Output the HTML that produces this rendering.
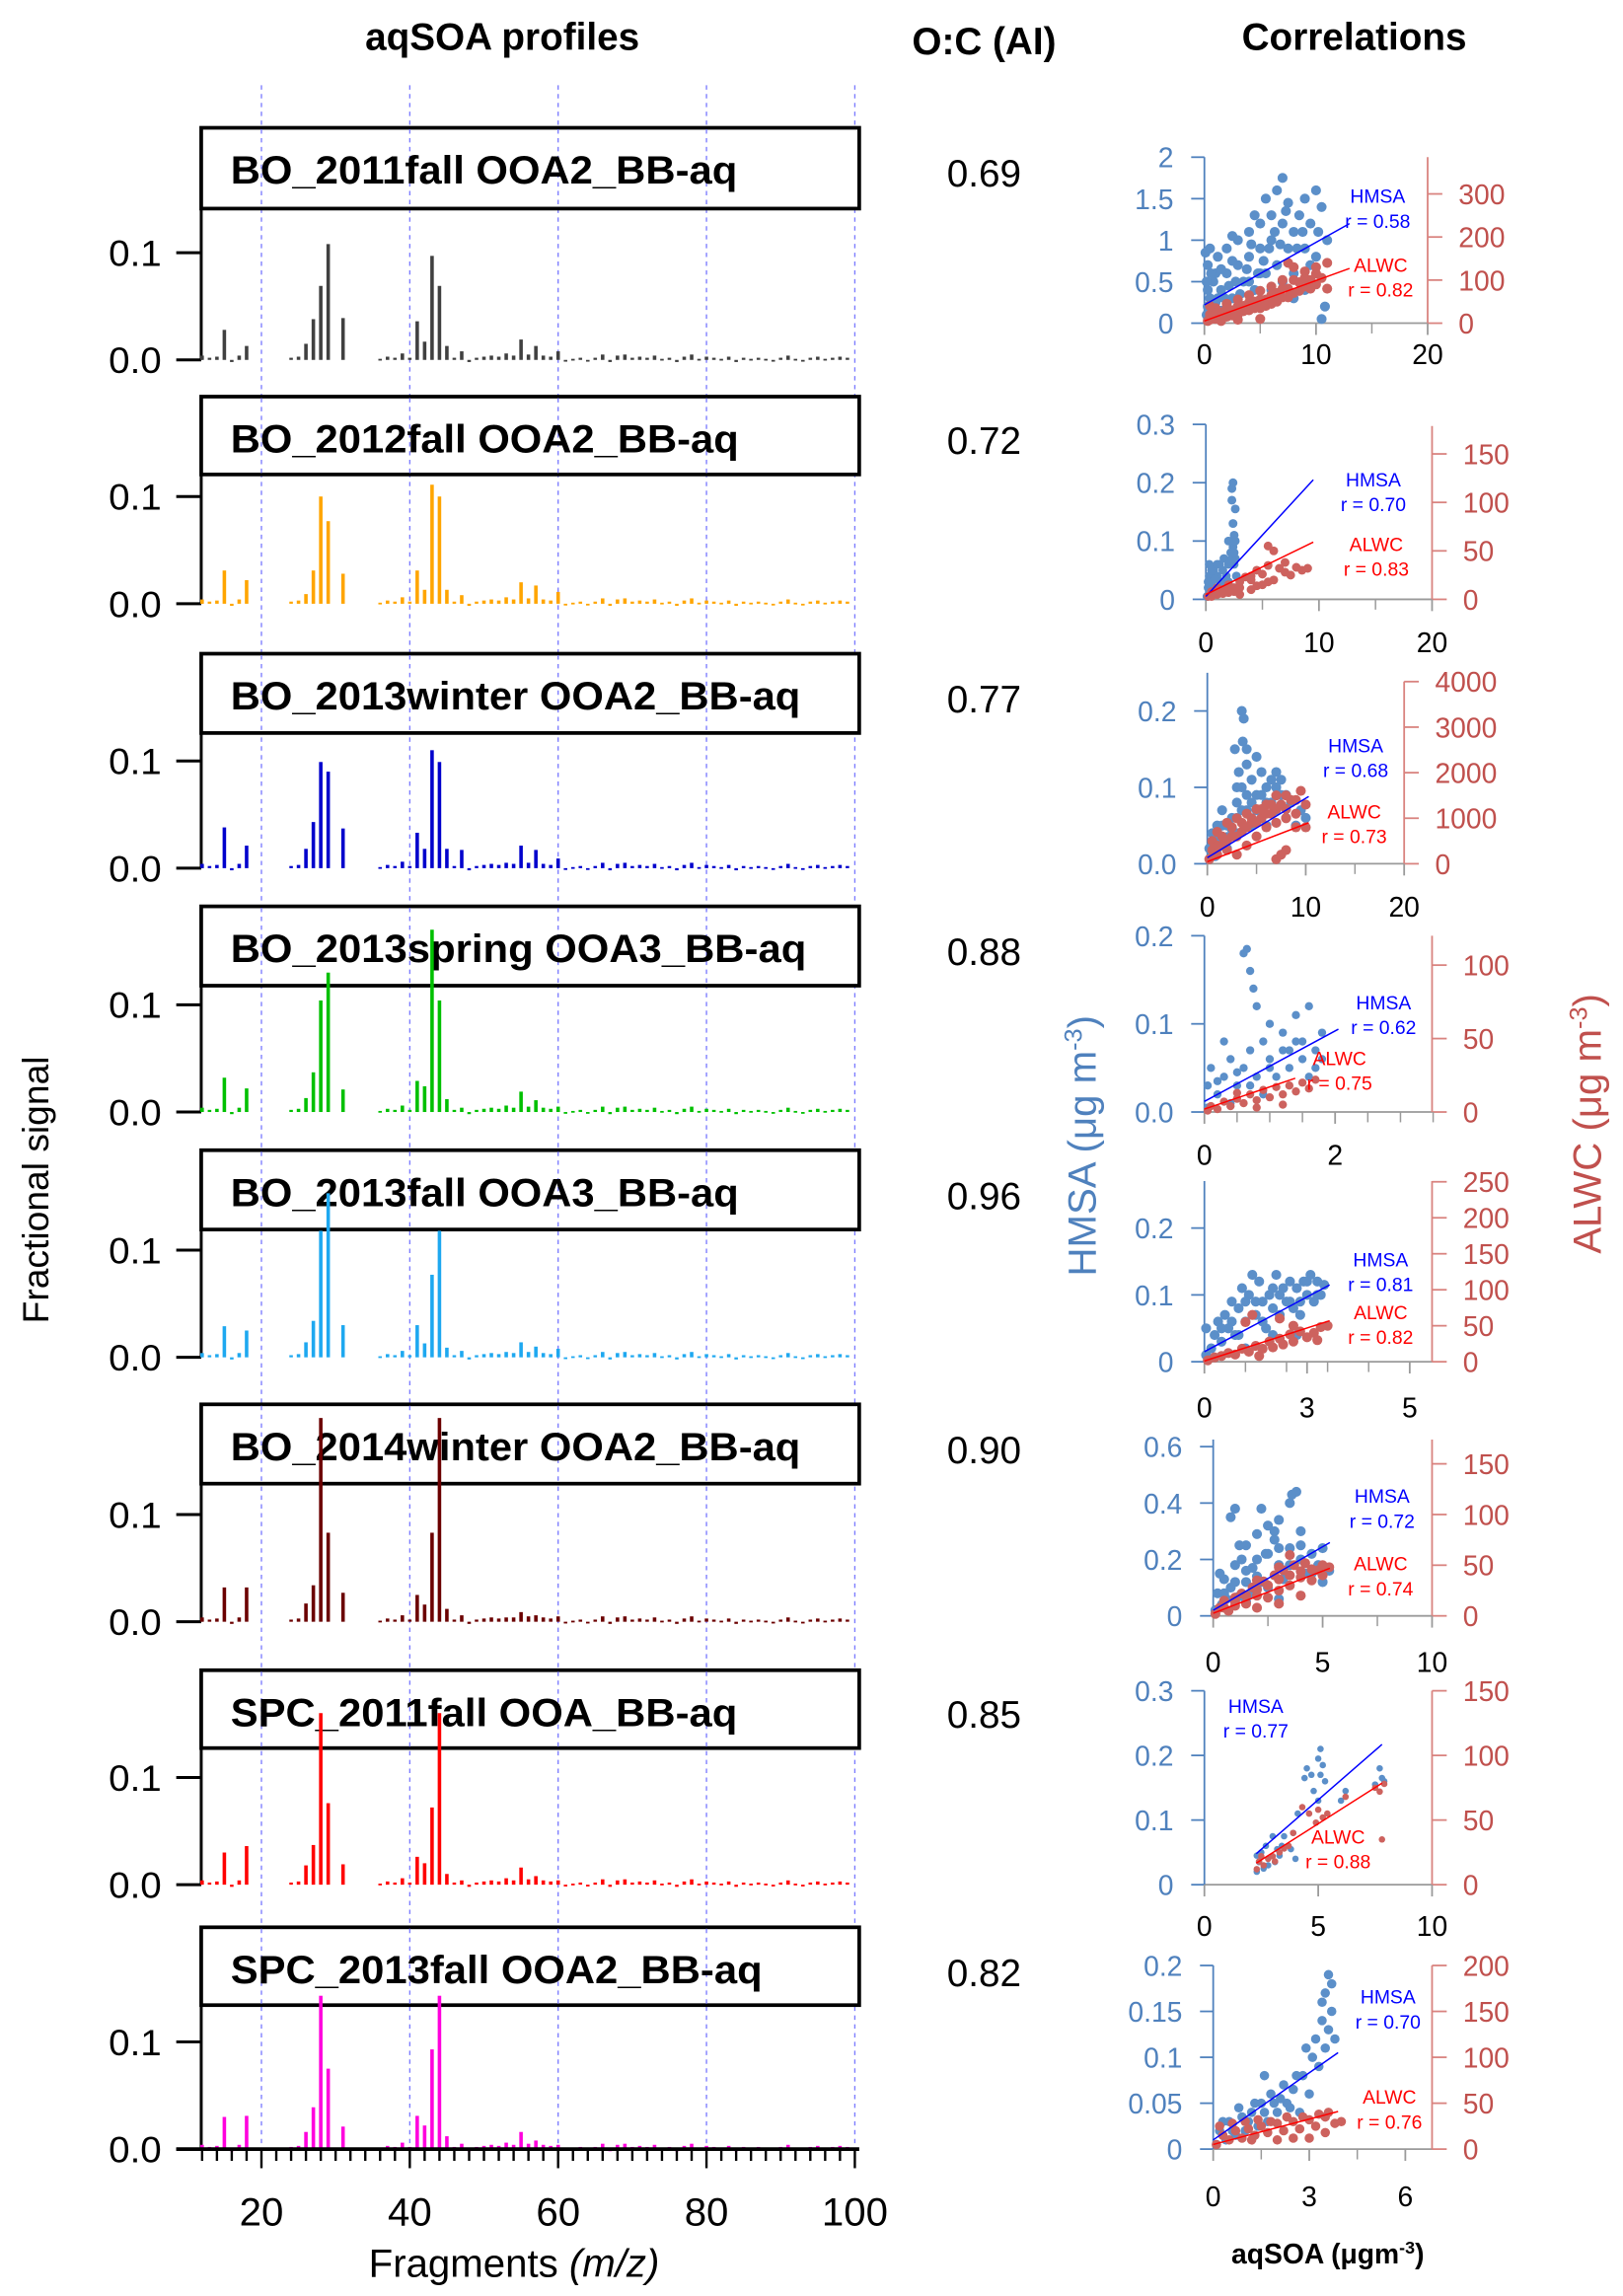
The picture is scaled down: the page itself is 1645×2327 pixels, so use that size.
<!DOCTYPE html>
<html><head><meta charset="utf-8">
<style>
html,body{margin:0;padding:0;background:#fff;}
svg{display:block;font-family:"Liberation Sans",sans-serif;}
</style></head>
<body>
<svg id="fig" xmlns="http://www.w3.org/2000/svg" width="1645" height="2327" viewBox="0 0 1105 1563" preserveAspectRatio="none">
<text x="342" y="34" text-anchor="middle" font-size="26" font-weight="bold">aqSOA profiles</text>
<text x="670" y="37" text-anchor="middle" font-size="26" font-weight="bold">O:C (AI)</text>
<text x="922" y="34" text-anchor="middle" font-size="26" font-weight="bold">Correlations</text>
<text transform="translate(33,810) rotate(-90)" text-anchor="middle" font-size="25">Fractional signal</text>
<text x="350" y="1550" text-anchor="middle" font-size="27">Fragments <tspan font-style="italic">(m/z)</tspan></text>
<text transform="translate(746,780) rotate(-90)" text-anchor="middle" font-size="27" fill="#4f81bd">HMSA (μg m<tspan baseline-shift="super" font-size="17">-3</tspan>)</text>
<text transform="translate(1090,765) rotate(-90)" text-anchor="middle" font-size="27" fill="#c0504d">ALWC (μg m<tspan baseline-shift="super" font-size="17">-3</tspan>)</text>
<text x="904" y="1541" text-anchor="middle" font-size="19" font-weight="bold">aqSOA (μgm<tspan baseline-shift="super" font-size="12">-3</tspan>)</text>
<g id="spec"></g>
<g id="scat"></g>
</svg>
<script>
// ---------- Spectra data ----------
const panelNames = ["BO_2011fall OOA2_BB-aq","BO_2012fall OOA2_BB-aq","BO_2013winter OOA2_BB-aq","BO_2013spring OOA3_BB-aq","BO_2013fall OOA3_BB-aq","BO_2014winter OOA2_BB-aq","SPC_2011fall OOA_BB-aq","SPC_2013fall OOA2_BB-aq"];
const ocValues = ["0.69","0.72","0.77","0.88","0.96","0.90","0.85","0.82"];
const peakMz = [15,18,26,27,28,29,31,41,42,43,44,45,47,53,55,57,60];
const peaks1 = [0.028,0.013,0.015,0.038,0.069,0.108,0.039,0.036,0.017,0.097,0.069,0.013,0.008,0.006,0.019,0.013,0.008];
const peaks2 = [0.031,0.022,0.009,0.031,0.100,0.077,0.028,0.031,0.013,0.111,0.100,0.013,0.008,0.006,0.020,0.017,0.011];
const peaks3 = [0.038,0.021,0.018,0.043,0.099,0.090,0.037,0.033,0.018,0.110,0.099,0.018,0.017,0.005,0.021,0.017,0.009];
const peaks4 = [0.032,0.022,0.013,0.037,0.104,0.130,0.021,0.029,0.024,0.170,0.104,0.012,0.004,0.006,0.019,0.011,0.005];
const peaks5 = [0.029,0.025,0.014,0.034,0.118,0.153,0.030,0.030,0.013,0.077,0.118,0.009,0.006,0.005,0.014,0.010,0.008];
const peaks6 = [0.032,0.032,0.017,0.034,0.190,0.083,0.027,0.025,0.016,0.083,0.190,0.012,0.006,0.004,0.009,0.006,0.005];
const peaks7 = [0.030,0.036,0.018,0.037,0.160,0.076,0.019,0.026,0.020,0.072,0.160,0.010,0.004,0.006,0.016,0.008,0.004];
const peaks8 = [0.030,0.031,0.016,0.039,0.143,0.075,0.021,0.031,0.022,0.093,0.143,0.012,0.005,0.006,0.016,0.008,0.004];
const minorMz = [12,13,14,16,17,24,25,36,37,38,39,40,46,48,49,50,51,52,54,56,58,59,61,62,63,64,65,66,67,68,69,70,71,72,73,74,75,76,77,78,79,80,81,82,83,84,85,86,87,88,89,90,91,92,93,94,95,96,97,98,99];
const minorVal = [0.004,0.002,0.003,-0.002,0.004,0.002,0.003,0.001,0.003,0.002,0.006,0.002,0.002,-0.002,0.002,0.003,0.004,0.003,0.004,0.005,0.004,0.003,-0.001,0.001,0.002,-0.001,0.002,0.005,-0.002,0.004,0.005,0.002,0.003,0.002,0.004,0.001,0.002,-0.002,0.003,0.005,0.001,0.003,0.002,0.001,0.003,-0.002,0.002,0.001,0.002,0.001,-0.001,0.002,0.004,0.001,-0.001,0.002,0.003,0.001,0.002,0.003,0.002];
const xTickLabels = ["20","40","60","80","100"];
const xTickVals = [20,40,60,80,100];
const yTickVals = [0,0.1];
const yTickLabels = ["0.0","0.1"];
const allPeaks = [peaks1,peaks2,peaks3,peaks4,peaks5,peaks6,peaks7,peaks8];

// layout (not data)
const colors = ["#404040","#ffa500","#0000cc","#00c000","#1ea8f0","#6b0000","#ff0000","#ff00dd"];
const boxTop = [87,270,445,617,783,956,1137,1312];
const boxBot = [142,323,499,671,837,1010,1190,1365];
const zeroY = [245,411,591,757,924,1104,1283,1463];
const titleW = [345,346,388,392,346,388,345,362];
const ocY = [127,309,485,657,823,996,1176,1352];
const perTenth = 73;
const X = mz => 178 + (mz-20)*5.05;
const NS = "http://www.w3.org/2000/svg";
function mk(tag, attrs, parent){const e=document.createElementNS(NS,tag);for(const k in attrs)e.setAttribute(k,attrs[k]);parent.appendChild(e);return e;}
const spec = document.getElementById('spec');

xTickVals.forEach((v,i)=>{
  const l = mk('line',{x1:X(v),x2:X(v),y1:58,y2:1463,stroke:'#7b7bff','stroke-width':0.9,'stroke-dasharray':'3,3'},spec);
  
  
});

for(let p=0;p<8;p++){
  const g = mk('g',{},spec);
  
  
  const Y = v => zeroY[p] - v*perTenth*10;
  const b = mk('rect',{x:137,y:boxTop[p],width:448,height:boxBot[p]-boxTop[p],fill:'#fff',stroke:'#000','stroke-width':2.5},g);
  
  
  xTickVals.forEach(v=>{ if(v<100){mk('line',{x1:X(v),x2:X(v),y1:boxTop[p]+1,y2:boxBot[p]-1,stroke:'#7b7bff','stroke-width':0.9,'stroke-dasharray':'3,3'},g);} });
  const t = mk('text',{x:157,y:boxTop[p]+38,'font-size':27,'font-weight':'bold',textLength:titleW[p],lengthAdjust:'spacingAndGlyphs'},g);
  t.textContent = panelNames[p];
  
  
  mk('line',{x1:137,x2:137,y1:boxBot[p],y2:zeroY[p],stroke:'#000','stroke-width':2},g);
  yTickVals.forEach((v,i)=>{
    mk('line',{x1:120,x2:137,y1:Y(v),y2:Y(v),stroke:'#000','stroke-width':2},g);
    const tl = mk('text',{x:110,y:Y(v)+9,'text-anchor':'end','font-size':25,textLength:36,lengthAdjust:'spacingAndGlyphs'},g);
    tl.textContent = yTickLabels[i];
    
    
  });
  const drawBar=(mz,v)=>{
    const y0=Y(0), y1=Y(v);
    const r = mk('rect',{x:X(mz)-1.2,y:Math.min(y0,y1),width:2.4,height:Math.max(1.2,Math.abs(y1-y0)),fill:colors[p]},g);
    
    
  };
  minorMz.forEach((mz,i)=>drawBar(mz,minorVal[i]));
  peakMz.forEach((mz,i)=>drawBar(mz,allPeaks[p][i]));
  const oc = mk('text',{x:670,y:ocY[p],'text-anchor':'middle','font-size':26},spec);
  oc.textContent = ocValues[p];
  
  
}
const ax = mk('g',{},spec);


mk('line',{x1:120,x2:585,y1:1463,y2:1463,stroke:'#000','stroke-width':2.5},ax);
for(let m=12;m<=100;m+=2){
  const major = xTickVals.includes(m);
  mk('line',{x1:X(m),x2:X(m),y1:1463,y2:major?1476:1471,stroke:'#000','stroke-width':1.6},ax);
}
xTickVals.forEach((v,i)=>{
  const t = mk('text',{x:X(v),y:1515,'text-anchor':'middle','font-size':27},ax);
  t.textContent = xTickLabels[i];
  
  
});

// ---------- Scatter data ----------
const s1Hmsa = [[0.2,0.1],[0.3,0.4],[0.3,0.7],[0.5,0.9],[0.8,0.5],[1,0.25],[1.2,0.8],[1.5,0.4],[2,0.6],[2,0.9],[2.5,0.3],[3,0.7],[3,1.0],[3.5,0.5],[4,0.8],[4,1.1],[4.5,0.4],[5,0.9],[5,1.2],[5.5,0.6],[5.5,1.5],[6,1.0],[6,1.3],[6.5,0.7],[6.5,1.6],[7,1.2],[7,1.75],[7.5,1.45],[7.5,0.9],[8,1.1],[8,0.6],[8.5,1.3],[9,0.9],[9,1.5],[9.5,1.2],[10,1.6],[10,0.8],[10.5,1.4],[11,1.0],[10.5,0.05],[10.8,0.2],[1.5,0.15],[2.5,1.05],[4.5,1.3],[3.5,0.2],[0.5,0.3],[1,0.6],[6,0.4],[7,0.5],[8,0.3],[9,0.4],[0.2,0.5],[1.8,0.3],[2.8,0.5],[4,0.5],[5,0.6],[0.3,0.2],[0.6,0.6],[1.2,0.3],[1.5,0.65],[2.2,0.45],[2.5,0.75],[3.2,0.35],[3.8,0.65],[4.2,0.95],[4.8,0.6],[5.3,0.75],[5.8,0.9],[6.3,1.1],[6.8,0.95],[7.3,1.35],[8.3,0.9],[8.8,1.1],[9.5,0.7],[10.2,1.1],[0.1,0.85]];
const s1Alwc = [[0.3,5],[0.5,20],[1,10],[1,35],[1.5,25],[2,15],[2,45],[2.5,30],[3,20],[3,55],[3.5,40],[4,30],[4,65],[4.5,50],[5,35],[5,75],[5.5,55],[6,45],[6,85],[6.5,70],[7,60],[7,100],[7.5,80],[8,70],[8,130],[8.5,95],[9,85],[9,120],[9.5,100],[10,90],[10,130],[10.5,105],[11,140],[11,80],[1.5,5],[3,8],[5,10],[7.5,140],[0.5,40],[2,30],[0.5,8],[1,22],[1.5,15],[2,35],[2.5,18],[3,40],[3.5,28],[4,48],[4.5,35],[5,55],[5.5,40],[6,65],[6.5,50],[7,80],[7.5,60],[8,100],[8.5,75],[9,105],[9.5,80],[10,115]];
const s2Hmsa = [[0.1,0.005],[0.2,0.02],[0.3,0.04],[0.5,0.01],[0.5,0.03],[0.7,0.05],[0.8,0.02],[1,0.04],[1.2,0.06],[1.3,0.03],[1.5,0.05],[1.6,0.07],[1.8,0.04],[2,0.06],[2.2,0.08],[2.3,0.1],[2.4,0.09],[2.5,0.11],[2.5,0.06],[2.6,0.1],[2.4,0.13],[2.3,0.19],[2.4,0.2],[2.3,0.17],[2.6,0.155],[2.6,0.07],[0.3,0.06],[1.0,0.01],[2.7,0.04],[2,0.1],[0.2,0.03],[0.5,0.05],[1,0.06],[1.5,0.03],[2,0.03],[2.3,0.07],[2.5,0.08],[0.8,0.035]];
const s2Alwc = [[0.2,3],[0.5,8],[1,5],[1,12],[1.5,10],[2,15],[2,7],[2.5,12],[3,18],[3.5,23],[4,20],[4.5,30],[4.5,14],[5,26],[5.5,35],[5.5,18],[6,20],[6.5,32],[7,28],[7,38],[7.5,25],[8,33],[8.5,30],[9,32],[6,50],[5.5,55],[4,24],[3,12],[0.5,3],[1.5,6],[2.5,8],[3,5],[4,10],[5,15]];
const s3Hmsa = [[0.2,0.02],[0.5,0.04],[0.8,0.01],[1,0.05],[1.5,0.03],[1.5,0.07],[2,0.05],[2,0.02],[2.5,0.06],[3,0.04],[3,0.08],[3.2,0.12],[3.5,0.1],[3.5,0.2],[3.7,0.19],[3.6,0.16],[4,0.07],[4,0.13],[4.5,0.11],[4.5,0.05],[5,0.09],[5,0.14],[5.5,0.06],[5.5,0.12],[6,0.08],[6,0.05],[6.5,0.11],[7,0.1],[7,0.07],[7.5,0.09],[8,0.06],[8.5,0.08],[9,0.05],[9.5,0.07],[10,0.06],[2.8,0.15],[1,0.02],[0.5,0.015],[1,0.035],[1.5,0.05],[2,0.035],[2.5,0.045],[3,0.06],[3.5,0.07],[4,0.09],[4.5,0.08],[5,0.07],[5.5,0.09],[6,0.1],[6.5,0.08],[7,0.12],[7.5,0.11],[8,0.09],[3,0.1],[4,0.15]];
const s3Alwc = [[0.2,100],[0.5,500],[1,200],[1,700],[1.5,400],[2,900],[2,300],[2.5,600],[3,1000],[3,200],[3.5,700],[4,1100],[4,400],[4.5,900],[5,1200],[5,600],[5.5,1000],[6,1300],[6,800],[6.5,1100],[7,1500],[7,900],[7.5,1300],[8,1200],[8.5,1400],[9,1100],[9.5,1600],[10,1300],[10,800],[7.5,200],[8,300],[7,100],[0.5,300],[1,400],[1.5,600],[2,500],[2.5,800],[3,600],[3.5,900],[4,800],[4.5,1000],[5,900],[5.5,1200],[6,1100],[6.5,1300],[7,1200],[8,1500],[9,1400],[8,1000],[9,800]];
const s4Hmsa = [[0.05,0.005],[0.05,0.03],[0.1,0.05],[0.2,0.02],[0.3,0.04],[0.4,0.01],[0.4,0.06],[0.5,0.03],[0.6,0.05],[0.6,0.18],[0.65,0.185],[0.7,0.16],[0.75,0.14],[0.7,0.07],[0.8,0.12],[0.8,0.04],[0.9,0.08],[0.9,0.02],[1,0.06],[1,0.1],[1.1,0.04],[1.2,0.07],[1.2,0.09],[1.3,0.05],[1.4,0.08],[1.4,0.11],[1.5,0.06],[1.6,0.12],[1.6,0.04],[1.7,0.07],[1.8,0.06],[1.8,0.09],[0.3,0.08],[0.2,0.035],[0.5,0.045],[0.7,0.03],[1,0.05],[1.3,0.07],[1.5,0.08],[1.7,0.05]];
const s4Alwc = [[0.05,1],[0.1,4],[0.2,2],[0.3,7],[0.4,4],[0.5,9],[0.6,6],[0.7,12],[0.8,8],[0.9,15],[1,10],[1.1,17],[1.2,12],[1.3,18],[1.4,14],[1.5,20],[1.6,16],[1.7,22],[0.8,3],[1.2,5],[0.5,13]];
const s5Hmsa = [[0.05,0.01],[0.05,0.05],[0.2,0.02],[0.3,0.04],[0.4,0.06],[0.5,0.03],[0.6,0.07],[0.7,0.05],[0.8,0.09],[0.9,0.04],[1,0.08],[1.1,0.11],[1.2,0.06],[1.3,0.1],[1.4,0.13],[1.5,0.07],[1.6,0.12],[1.7,0.09],[1.8,0.05],[1.9,0.1],[2,0.08],[2.1,0.13],[2.2,0.07],[2.3,0.11],[2.4,0.09],[2.5,0.12],[2.6,0.08],[2.7,0.11],[2.8,0.09],[2.9,0.12],[3,0.1],[3.1,0.13],[3.2,0.09],[3.3,0.12],[3.4,0.1],[3.5,0.115],[1.2,0.02],[2,0.04],[2.7,0.04],[0.5,0.05],[0.8,0.06],[1,0.04],[1.5,0.09],[1.7,0.06],[2,0.11],[2.2,0.1],[2.5,0.09],[2.8,0.07],[3,0.12],[3.3,0.1],[1.2,0.09]];
const s5Alwc = [[0.1,2],[0.3,6],[0.5,8],[0.7,12],[0.9,10],[1.1,18],[1.3,14],[1.5,22],[1.7,18],[1.9,28],[2,20],[2.2,32],[2.3,24],[2.5,38],[2.6,28],[2.8,42],[3,34],[3.2,40],[3.4,48],[3.6,50],[1.4,65],[1.2,55],[2.2,60],[2.6,50],[3.3,30],[1.6,8]];
const s6Hmsa = [[0.1,0.02],[0.2,0.08],[0.4,0.04],[0.5,0.13],[0.6,0.06],[0.8,0.1],[0.8,0.35],[1,0.38],[1,0.18],[1.2,0.07],[1.3,0.2],[1.5,0.12],[1.5,0.25],[1.7,0.08],[1.8,0.17],[2,0.29],[2,0.14],[2.2,0.38],[2.4,0.22],[2.5,0.32],[2.5,0.1],[2.8,0.27],[3,0.18],[3,0.34],[3.2,0.13],[3.5,0.24],[3.5,0.4],[3.6,0.43],[3.8,0.44],[4,0.2],[4,0.3],[4.2,0.15],[4.5,0.22],[4.8,0.18],[5,0.12],[5,0.24],[5.3,0.16],[0.3,0.15],[1.5,0.05],[3,0.06],[0.5,0.08],[1,0.12],[1.5,0.16],[2,0.2],[2.5,0.22],[3,0.24],[3.5,0.18],[4,0.25],[4.5,0.15],[1.2,0.25],[2.8,0.3],[2.2,0.12]];
const s6Alwc = [[0.1,2],[0.3,8],[0.5,15],[0.7,5],[1,18],[1,10],[1.3,22],[1.5,12],[1.8,28],[2,20],[2.3,34],[2.5,18],[2.8,40],[3,25],[3.2,45],[3.5,30],[3.7,50],[4,38],[4.2,52],[4.5,35],[4.8,45],[5,40],[5.3,48],[3.5,60],[2,8],[3,12],[4,20],[0.5,8],[1,14],[1.5,20],[2,26],[2.5,30],[3,36],[3.5,40],[4,44],[4.5,46],[5,50],[2,35],[3,48]];
const s7Hmsa = [[2.3,0.02],[2.3,0.045],[2.5,0.05],[2.7,0.06],[2.8,0.03],[3.0,0.075],[3.2,0.055],[3.4,0.06],[3.5,0.075],[3.8,0.055],[3.9,0.08],[4.0,0.04],[4.1,0.11],[4.4,0.165],[4.5,0.18],[4.7,0.17],[5.0,0.195],[5.1,0.21],[5.1,0.17],[5.2,0.185],[5.3,0.16],[3.1,0.035],[2.6,0.025],[5.0,0.13],[6.0,0.13],[6.2,0.145],[7.5,0.155],[7.7,0.18],[7.8,0.165],[7.9,0.16],[2.4,0.035],[3.3,0.045],[4.8,0.145]];
const s7Alwc = [[2.3,12],[2.4,18],[2.6,15],[2.8,20],[3.0,22],[3.1,18],[3.3,25],[3.5,28],[3.7,30],[4.3,60],[4.6,55],[4.9,48],[5.2,52],[5.4,55],[6.2,68],[7.5,75],[7.7,72],[7.9,78],[7.8,35],[3.9,40],[5.0,58],[2.5,22]];
const s8Hmsa = [[0.1,0.005],[0.2,0.02],[0.4,0.01],[0.5,0.03],[0.7,0.015],[0.9,0.035],[1,0.02],[1.2,0.04],[1.4,0.025],[1.5,0.05],[1.7,0.03],[1.8,0.06],[2,0.04],[2.2,0.07],[2.3,0.05],[2.5,0.065],[2.7,0.04],[2.8,0.08],[3,0.06],[3.1,0.1],[3.2,0.12],[3.3,0.09],[3.4,0.14],[3.5,0.11],[3.5,0.17],[3.6,0.13],[3.7,0.15],[3.6,0.19],[3.8,0.12],[2.9,0.11],[1.6,0.08],[0.3,0.03],[0.6,0.02],[0.8,0.045],[1.1,0.03],[1.3,0.05],[1.6,0.04],[1.9,0.05],[2.1,0.055],[2.4,0.045],[2.6,0.08],[3.4,0.16],[3.7,0.18]];
const s8Alwc = [[0.1,5],[0.3,15],[0.5,10],[0.7,20],[0.9,12],[1.1,22],[1.3,15],[1.5,25],[1.7,18],[2,28],[2.2,20],[2.5,30],[2.7,22],[3,32],[3.2,25],[3.5,35],[3.8,28],[4,30],[2,10],[3,12],[0.2,25],[0.6,28],[1,30],[1.4,32],[1.8,30],[2.3,35],[2.8,35],[3.3,38],[3.6,40],[1.2,10],[2.5,12],[3.5,18]];
const hmsaFits = [[0,0.22,13,1.2],[0,0.005,9.5,0.205],[0,0.008,10.3,0.088],[0,0.012,2.05,0.094],[0,0.015,3.66,0.115],[0,0.02,5.33,0.26],[2.28,0.048,7.8,0.217],[0,0.01,3.9,0.105]];
const alwcFits = [[0,5,13,127],[0,5,9.5,59],[0,45,10.3,900],[0,2,1.39,23],[0,1,3.66,57],[0,2.6,5.33,47],[2.28,16.7,7.8,78.5],[0,5,3.9,41]];
const hmsaR = ["0.58","0.70","0.68","0.62","0.81","0.72","0.77","0.70"];
const alwcR = ["0.82","0.83","0.73","0.75","0.82","0.74","0.88","0.76"];
const leftTicks = [[0,0.5,1,1.5,2],[0,0.1,0.2,0.3],[0,0.1,0.2],[0,0.1,0.2],[0,0.1,0.2],[0,0.2,0.4,0.6],[0,0.1,0.2,0.3],[0,0.05,0.1,0.15,0.2]];
const leftLabels = [["0","0.5","1","1.5","2"],["0","0.1","0.2","0.3"],["0.0","0.1","0.2"],["0.0","0.1","0.2"],["0","0.1","0.2"],["0","0.2","0.4","0.6"],["0","0.1","0.2","0.3"],["0","0.05","0.1","0.15","0.2"]];
const rightTicks = [[0,100,200,300],[0,50,100,150],[0,1000,2000,3000,4000],[0,50,100],[0,50,100,150,200,250],[0,50,100,150],[0,50,100,150],[0,50,100,150,200]];
const xTicksS = [[0,10,20],[0,10,20],[0,10,20],[0,2],[0,3,6],[0,5,10],[0,5,10],[0,3,6]];
const xLabelsS = [["0","10","20"],["0","10","20"],["0","10","20"],["0","2"],["0","3","5"],["0","5","10"],["0","5","10"],["0","3","6"]];
const xMinorS = [[5,15],[5,15],[5,15],[0.5,1,1.5,2.5,3,3.5],[1.2,2.4,3.6,4.8],[2.5,7.5],[],[1.5,4.5]];
const hmsaSets=[s1Hmsa,s2Hmsa,s3Hmsa,s4Hmsa,s5Hmsa,s6Hmsa,s7Hmsa,s8Hmsa];
const alwcSets=[s1Alwc,s2Alwc,s3Alwc,s4Alwc,s5Alwc,s6Alwc,s7Alwc,s8Alwc];

// layout (not data)
const L = [
 {x0:820,xs:7.6,yb:220,lp:56.5,rp:0.2933,rx:972,top:107,rtop:107,ly:248,h:[938,134],a:[940,181],r:3.4},
 {x0:821,xs:7.7,yb:408,lp:397,rp:0.66,rx:975,top:289,rtop:290,ly:444,h:[935,327],a:[937,371],r:3},
 {x0:822,xs:6.7,yb:588,lp:520,rp:0.031,rx:956,top:458,rtop:464,ly:624,h:[923,508],a:[922,553],r:3.4},
 {x0:820,xs:44.5,yb:757,lp:600,rp:1.0,rx:975,top:637,rtop:637,ly:793,h:[942,683],a:[912,721],r:2.8},
 {x0:820,xs:23.3,yb:927,lp:455,rp:0.49,rx:975,top:804,rtop:804,ly:965,h:[940,858],a:[940,894],r:3.4},
 {x0:826,xs:14.9,yb:1100,lp:192,rp:0.69,rx:975,top:980,rtop:980,ly:1138,h:[941,1019],a:[940,1065],r:3.4},
 {x0:820,xs:15.5,yb:1283,lp:440,rp:0.88,rx:975,top:1151,rtop:1151,ly:1318,h:[855,1162],a:[911,1251],r:2.2},
 {x0:826,xs:21.8,yb:1463,lp:625,rp:0.625,rx:975,top:1338,rtop:1338,ly:1502,h:[945,1360],a:[946,1428],r:3.2}
];
const BL="#4f81bd", RD="#c0504d";
const scat=document.getElementById('scat');
for(let p=0;p<8;p++){
  const c=L[p];
  const g=mk('g',{},scat);
  
  
  const sx=v=>c.x0+v*c.xs, sl=v=>c.yb-v*c.lp, sr=v=>c.yb-v*c.rp;
  mk('line',{x1:c.x0,x2:c.rx,y1:c.yb,y2:c.yb,stroke:'#9a9a9a','stroke-width':1.2},g);
  mk('line',{x1:c.x0,x2:c.x0,y1:c.top,y2:c.yb,stroke:BL,'stroke-width':1.2},g);
  mk('line',{x1:c.rx,x2:c.rx,y1:c.rtop,y2:c.yb,stroke:'#d9837f','stroke-width':1.2},g);
  leftTicks[p].forEach((v,i)=>{
    mk('line',{x1:c.x0-9,x2:c.x0,y1:sl(v),y2:sl(v),stroke:BL,'stroke-width':1.2},g);
    const t=mk('text',{x:c.x0-21,y:sl(v)+7,'text-anchor':'end','font-size':19,fill:BL},g);
    t.textContent=leftLabels[p][i];
    
    
  });
  rightTicks[p].forEach(v=>{
    mk('line',{x1:c.rx,x2:c.rx+10,y1:sr(v),y2:sr(v),stroke:'#d9837f','stroke-width':1.2},g);
    const t=mk('text',{x:c.rx+21,y:sr(v)+7,'font-size':19,fill:RD},g);
    t.textContent=String(v);
    
    
  });
  xTicksS[p].forEach((v,i)=>{
    mk('line',{x1:sx(v),x2:sx(v),y1:c.yb,y2:c.yb+8,stroke:'#9a9a9a','stroke-width':1.2},g);
    const t=mk('text',{x:sx(v),y:c.ly,'text-anchor':'middle','font-size':19},g);
    t.textContent=xLabelsS[p][i];
    
    
  });
  xMinorS[p].forEach(v=>mk('line',{x1:sx(v),x2:sx(v),y1:c.yb,y2:c.yb+7,stroke:'#9a9a9a','stroke-width':1},g));
  hmsaSets[p].forEach(d=>{
    const pt=mk('circle',{cx:sx(d[0]),cy:sl(d[1]),r:c.r,fill:'#5b8fc9'},g);
    
    
  });
  alwcSets[p].forEach(d=>{
    const pt=mk('circle',{cx:sx(d[0]),cy:sr(d[1]),r:c.r,fill:'#cd625e'},g);
    
    
  });
  const hf=hmsaFits[p], af=alwcFits[p];
  const hl=mk('line',{x1:sx(hf[0]),y1:sl(hf[1]),x2:sx(hf[2]),y2:sl(hf[3]),stroke:'#0000ff','stroke-width':1},g);
  
  
  const al=mk('line',{x1:sx(af[0]),y1:sr(af[1]),x2:sx(af[2]),y2:sr(af[3]),stroke:'#ff0000','stroke-width':1},g);
  
  
  const t1=mk('text',{x:c.h[0],y:c.h[1]+4,'text-anchor':'middle','font-size':13,fill:'#0000ff'},g);
  t1.textContent='HMSA';
  
  
  const t2=mk('text',{x:c.h[0],y:c.h[1]+21,'text-anchor':'middle','font-size':13,fill:'#0000ff'},g);
  t2.textContent='r = '+hmsaR[p];
  
  
  const t3=mk('text',{x:c.a[0],y:c.a[1]+4,'text-anchor':'middle','font-size':13,fill:'#ff0000'},g);
  t3.textContent='ALWC';
  
  
  const t4=mk('text',{x:c.a[0],y:c.a[1]+21,'text-anchor':'middle','font-size':13,fill:'#ff0000'},g);
  t4.textContent='r = '+alwcR[p];
  
  
}
</script>
</body></html>
